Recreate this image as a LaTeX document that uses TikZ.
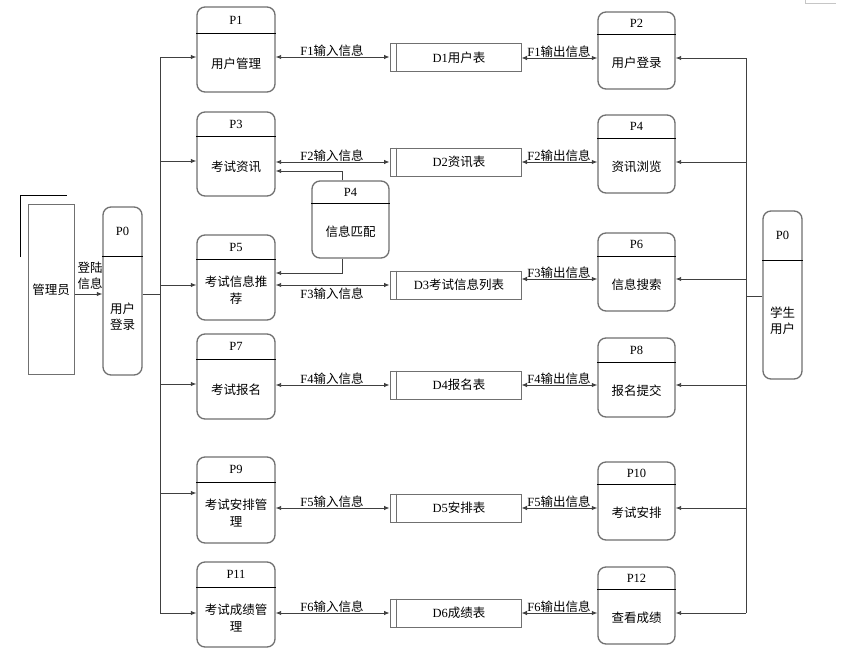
\documentclass[tikz,border=0pt]{standalone}
\usepackage{fontspec}
\setmainfont{Liberation Serif}
\newfontfamily\cjk{Noto Sans CJK SC}
\usetikzlibrary{arrows.meta}
\newcommand{\zh}[1]{{\cjk #1}}
\definecolor{boxgray}{HTML}{707070}
\definecolor{linegray}{HTML}{404040}
\tikzset{
  procbox/.style={draw=boxgray, line width=1.3pt, rounded corners=8pt, inner sep=0pt},
  storebox/.style={draw=boxgray, line width=1pt, inner sep=0pt, minimum width=131pt, minimum height=28pt},
  extbox/.style={draw=boxgray, line width=1pt, inner sep=0pt},
  divline/.style={draw=black, line width=1pt},
  flow/.style={draw=linegray, line width=0.9pt},
  txt/.style={inner sep=0pt, align=center},
  flowlab/.style={inner sep=0.6pt},
  >={Latex[length=5.5pt,width=4.5pt]}
}
% \proc{name}{x1}{y1}{x2}{y2}{divider y}{header}{body}
\newcommand{\proc}[8]{%
  \node[procbox, minimum width={(#4-#2)*1pt}, minimum height={(#5-#3)*1pt}] (#1) at ({(#2+#4)/2},{(#3+#5)/2}) {};
  \draw[divline] (#1.west |- 0,#6) -- (#1.east |- 0,#6);
  \node[txt] (#1h) at ({(#2+#4)/2},{(#3+#6)/2}) {#7};
  \node[txt] (#1b) at ({(#2+#4)/2},{(#6+#5)/2+1}) {#8};
}
% \store{name}{y center}{text}
\newcommand{\store}[3]{%
  \node[storebox] (#1) at (455.5,#2) {};
  \draw[boxgray, line width=0.9pt] ([xshift=7pt]#1.north west) -- ([xshift=7pt]#1.south west);
  \node[txt] (#1t) at (459,#2) {#3};
}
\begin{document}
\begin{tikzpicture}[x=1pt,y=-1pt, font=\fontsize{12.5}{15}\selectfont]
\useasboundingbox (0,0) rectangle (852,667);
\fill[white] (0,0) rectangle (852,667);
% page corner mark
\draw[gray!45, line width=0.8pt] (805,0) -- (805,3) -- (836,3);

% administrator
\draw[black, line width=0.8pt] (20,257) -- (20,195) -- (67,195);
\node[extbox, minimum width=46pt, minimum height=170pt] (admin) at (51,289) {};
\node[txt] (admint) at (51,290) {\zh{管理员}};

% P0 left
\proc{pzl}{103}{207}{142}{375}{256}{P0}{\zh{用户}\\[1pt]\zh{登录}}
% P0 right
\proc{pzr}{763}{211}{802}{379}{260}{P0}{\zh{学生}\\[1pt]\zh{用户}}

% left processes
\proc{p1}{197}{7}{275}{92}{33}{P1}{\zh{用户管理}}
\proc{p3}{197}{112}{275}{196}{136}{P3}{\zh{考试资讯}}
\proc{p5}{197}{235}{275}{320}{259}{P5}{\zh{考试信息推}\\[2pt]\zh{荐}}
\proc{p7}{197}{334}{275}{419}{359}{P7}{\zh{考试报名}}
\proc{p9}{197}{457}{275}{543}{482}{P9}{\zh{考试安排管}\\[2pt]\zh{理}}
\proc{p11}{197}{562}{275}{647}{587}{P11}{\zh{考试成绩管}\\[2pt]\zh{理}}

% middle process
\proc{pm}{312}{181}{389}{258}{203}{P4}{\zh{信息匹配}}

% right processes
\proc{p2}{598}{12}{675}{89}{34}{P2}{\zh{用户登录}}
\proc{p4}{598}{115}{675}{193}{138}{P4}{\zh{资讯浏览}}
\proc{p6}{598}{233}{675}{311}{256}{P6}{\zh{信息搜索}}
\proc{p8}{598}{338}{675}{417}{362}{P8}{\zh{报名提交}}
\proc{p10}{598}{462}{675}{540}{484}{P10}{\zh{考试安排}}
\proc{p12}{598}{567}{675}{644}{589}{P12}{\zh{查看成绩}}

% data stores
\store{d1}{57.5}{D1\zh{用户表}}
\store{d2}{162}{D2\zh{资讯表}}
\store{d3}{285}{D3\zh{考试信息列表}}
\store{d4}{385}{D4\zh{报名表}}
\store{d5}{508}{D5\zh{安排表}}
\store{d6}{613}{D6\zh{成绩表}}

% admin -> P0
\draw[flow,->] (admin.east |- 0,294) -- (pzl.west |- 0,294);
\node[txt] (loginlab) at (90,276) {\zh{登陆}\\[1pt]\zh{信息}};

% left bus
\coordinate (bl0) at (160,294);
\coordinate (bl1) at (160,57);
\coordinate (bl3) at (160,161);
\coordinate (bl5) at (160,285);
\coordinate (bl7) at (160,384);
\coordinate (bl9) at (160,493);
\coordinate (bl11) at (160,613);
\draw[flow] (pzl.east |- bl0) -- (bl0);
\draw[flow] (bl1) -- (bl11);
\draw[flow,->] (bl1) -- (p1.west |- bl1);
\draw[flow,->] (bl3) -- (p3.west |- bl3);
\draw[flow,->] (bl5) -- (p5.west |- bl5);
\draw[flow,->] (bl7) -- (p7.west |- bl7);
\draw[flow,->] (bl9) -- (p9.west |- bl9);
\draw[flow,->] (bl11) -- (p11.west |- bl11);

% right bus
\coordinate (br0) at (746,296);
\coordinate (br2) at (746,58);
\coordinate (br4) at (746,162);
\coordinate (br6) at (746,279);
\coordinate (br8) at (746,385);
\coordinate (br10) at (746,508);
\coordinate (br12) at (746,613);
\draw[flow] (pzr.west |- br0) -- (br0);
\draw[flow] (br2) -- (br12);
\draw[flow,->] (br2) -- (p2.east |- br2);
\draw[flow,->] (br4) -- (p4.east |- br4);
\draw[flow,->] (br6) -- (p6.east |- br6);
\draw[flow,->] (br8) -- (p8.east |- br8);
\draw[flow,->] (br10) -- (p10.east |- br10);
\draw[flow,->] (br12) -- (p12.east |- br12);

% left flows (process <-> store)
\draw[flow,<->] (p1.east |- 0,57) -- (d1.west |- 0,57);
\draw[flow,<->] (p3.east |- 0,162) -- (d2.west |- 0,162);
\draw[flow,<->] (p5.east |- 0,285) -- (d3.west |- 0,285);
\draw[flow,<->] (p7.east |- 0,385) -- (d4.west |- 0,385);
\draw[flow,<->] (p9.east |- 0,508) -- (d5.west |- 0,508);
\draw[flow,<->] (p11.east |- 0,613) -- (d6.west |- 0,613);
\node[flowlab, anchor=south] (lf1) at (332,57) {F1\zh{输入信息}};
\node[flowlab, anchor=south] (lf2) at (332,162) {F2\zh{输入信息}};
\node[flowlab, anchor=north] (lf3) at (332,287) {F3\zh{输入信息}};
\node[flowlab, anchor=south] (lf4) at (332,385) {F4\zh{输入信息}};
\node[flowlab, anchor=south] (lf5) at (332,508) {F5\zh{输入信息}};
\node[flowlab, anchor=south] (lf6) at (332,613) {F6\zh{输入信息}};

% right flows (store <-> process)
\draw[flow,<->] (d1.east |- 0,58) -- (p2.west |- 0,58);
\draw[flow,<->] (d2.east |- 0,162) -- (p4.west |- 0,162);
\draw[flow,<->] (d3.east |- 0,279) -- (p6.west |- 0,279);
\draw[flow,<->] (d4.east |- 0,385) -- (p8.west |- 0,385);
\draw[flow,<->] (d5.east |- 0,508) -- (p10.west |- 0,508);
\draw[flow,<->] (d6.east |- 0,613) -- (p12.west |- 0,613);
\node[flowlab, anchor=south] (rf1) at (559,58) {F1\zh{输出信息}};
\node[flowlab, anchor=south] (rf2) at (559,162) {F2\zh{输出信息}};
\node[flowlab, anchor=south] (rf3) at (559,279) {F3\zh{输出信息}};
\node[flowlab, anchor=south] (rf4) at (559,385) {F4\zh{输出信息}};
\node[flowlab, anchor=south] (rf5) at (559,508) {F5\zh{输出信息}};
\node[flowlab, anchor=south] (rf6) at (559,613) {F6\zh{输出信息}};

% matching process connectors
\draw[flow,->] (pm.north -| 342,0) -- (342,171) -- (p3.east |- 0,171);
\draw[flow,->] (pm.south -| 342,0) -- (342,273) -- (p5.east |- 0,273);
\end{tikzpicture}
\end{document}
